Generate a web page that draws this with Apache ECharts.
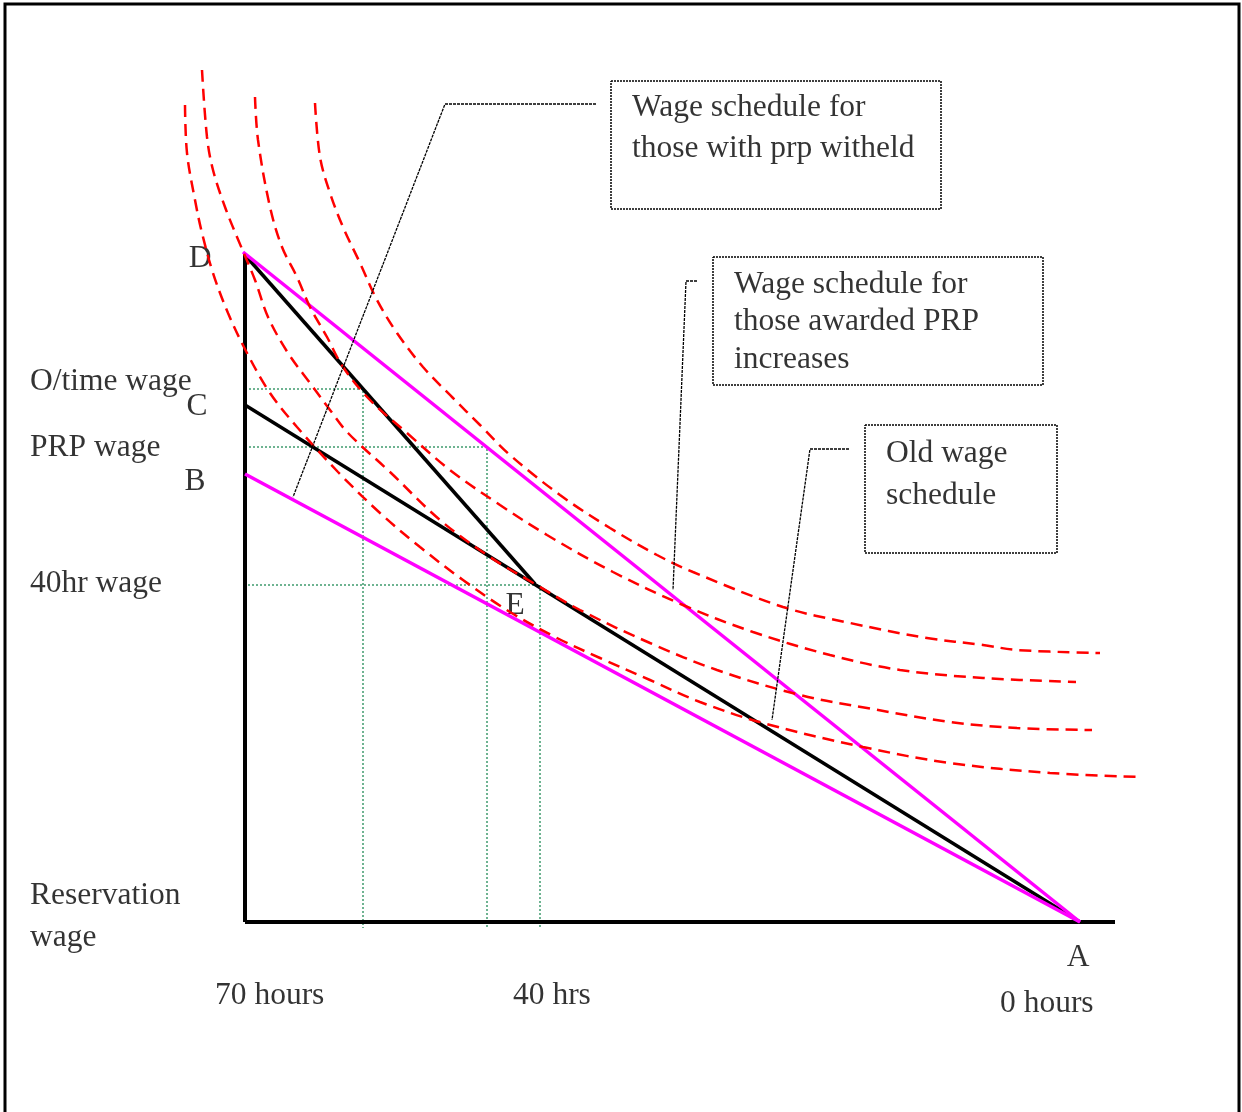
<!DOCTYPE html>
<html>
<head>
<meta charset="utf-8">
<script src="https://cdn.jsdelivr.net/npm/echarts@6/dist/echarts.min.js"></script>
<style>
  html, body { margin: 0; padding: 0; background: #fff; }
  #chart { width: 1242px; height: 1112px; }
</style>
</head>
<body>
<div id="chart"></div>
<script>
// units: x = position along the hours axis (0 at 70 hours), y = wage (0 at reservation wage)
var axisV = [[0, 0], [0, 669]];
var axisH = [[0, 0], [870, 0]];

// wage schedules
var prpAwarded = [[-2, 670], [835, 0]];      // D -> A
var prpWithheld = [[0, 448], [835, 0]];      // B -> A
var overtimeLeg = [[0, 667], [290, 338]];    // D -> E
var oldSchedule = [[0, 517], [835, 0]];      // C -> A

// dotted guides
var guideOT = [[0, 533], [118, 533], [118, -6]];
var guidePRP = [[0, 475], [242, 475], [242, -6]];
var guide40 = [[3, 337], [295, 337], [295, -6]];

// indifference curves
var curve1 = [[-60, 817], [-58, 769], [-50, 722], [-43, 689], [-32, 649], [-17, 609], [2, 569], [25, 529], [52, 495],
  [93, 450], [135, 409], [175, 375], [218, 342], [265, 310], [312, 284], [355, 264], [405, 242], [455, 220],
  [518, 199], [618, 175], [705, 159], [805, 149], [897, 145]];
var curve2 = [[-43, 852], [-38, 785], [-32, 752], [-20, 715], [-8, 685], [10, 642], [23, 605], [43, 569], [65, 539],
  [85, 512], [103, 489], [145, 450], [195, 402], [245, 365], [290, 338], [335, 312], [405, 279], [472, 252],
  [555, 227], [622, 214], [705, 200], [772, 194], [847, 192]];
var curve3 = [[10, 825], [13, 782], [25, 715], [37, 675], [52, 645], [65, 615], [82, 585], [98, 555], [125, 522],
  [162, 489], [205, 452], [255, 417], [302, 387], [368, 350], [438, 317], [508, 290], [585, 267], [655, 252],
  [738, 244], [831, 240]];
var curve4 = [[70, 819], [75, 765], [85, 729], [98, 695], [115, 659], [132, 622], [152, 589], [178, 555], [208, 524],
  [235, 497], [265, 467], [315, 427], [365, 394], [412, 367], [448, 350], [538, 315], [605, 299], [682, 284],
  [738, 277], [772, 272], [855, 269]];

// callout boxes and pointers
var box1 = [[366, 841], [696, 841], [696, 713], [366, 713], [366, 841]];
var box2 = [[468, 665], [798, 665], [798, 537], [468, 537], [468, 665]];
var box3 = [[620, 497], [812, 497], [812, 369], [620, 369], [620, 497]];
var pointer1 = [[351, 818], [200, 818], [48, 425]];
var pointer2 = [[452, 641], [441, 641], [428, 332]];
var pointer3 = [[604, 473], [565, 473], [527, 202]];

// text
var leftLabels = [[-215, 540, 'O/time wage'], [-215, 474, 'PRP wage'], [-215, 338, '40hr wage'],
  [-215, 26, 'Reservation'], [-215, -16, 'wage'], [-30, -74, '70 hours'], [268, -74, '40 hrs'], [755, -82, '0 hours'],
  [387, 814, 'Wage schedule for'], [387, 773, 'those with prp witheld'],
  [489, 637, 'Wage schedule for'], [489, 600, 'those awarded PRP'], [489, 562, 'increases'],
  [641, 468, 'Old wage'], [641, 426, 'schedule']];
var pointLabels = [[-45, 663, 'D'], [-48, 515, 'C'], [-50, 440, 'B'], [270, 316, 'E'], [833, -36, 'A']];

var chart = echarts.init(document.getElementById('chart'));

function line(data, color, width, type) {
  return {
    type: 'line',
    data: data,
    symbol: 'none',
    clip: false,
    silent: true,
    lineStyle: { color: color, width: width, type: type || 'solid' }
  };
}
function curve(data) {
  var s = line(data, '#ff0000', 2.5, [12, 7]);
  s.smooth = 0.35;
  return s;
}
function texts(data, align) {
  return {
    type: 'scatter',
    data: data,
    symbolSize: 0,
    silent: true,
    clip: false,
    label: {
      show: true,
      position: [0, 0],
      align: align,
      verticalAlign: 'middle',
      formatter: function (p) { return p.value[2]; },
      fontFamily: 'Liberation Serif',
      fontSize: 31.5,
      color: '#000'
    }
  };
}

var green = '#3f9a6e';
var option = {
  animation: false,
  grid: { left: 0, right: 0, top: 0, bottom: 0 },
  xAxis: { type: 'value', min: -245, max: 997, show: false },
  yAxis: { type: 'value', min: -190, max: 922, show: false },
  graphic: [{
    type: 'rect',
    shape: { x: 5, y: 4, width: 1234, height: 1130 },
    style: { fill: null, stroke: '#000', lineWidth: 3 }
  }],
  series: [
    line(guideOT, green, 1.5, [2, 2]),
    line(guidePRP, green, 1.5, [2, 2]),
    line(guide40, green, 1.5, [2, 2]),
    line(axisV, '#000', 4),
    line(axisH, '#000', 4),
    line(overtimeLeg, '#000', 3.5),
    line(oldSchedule, '#000', 3.5),
    line(prpAwarded, '#ff00ff', 3.5),
    line(prpWithheld, '#ff00ff', 3.5),
    curve(curve1),
    curve(curve2),
    curve(curve3),
    curve(curve4),
    line(pointer1, '#000', 1.3, [3, 1]),
    line(pointer2, '#000', 1.3, [3, 1]),
    line(pointer3, '#000', 1.3, [3, 1]),
    line(box1, '#000', 1.5, [2, 1]),
    line(box2, '#000', 1.5, [2, 1]),
    line(box3, '#000', 1.5, [2, 1]),
    texts(leftLabels, 'left'),
    texts(pointLabels, 'center')
  ]
};
chart.setOption(option);
</script>
</body>
</html>
